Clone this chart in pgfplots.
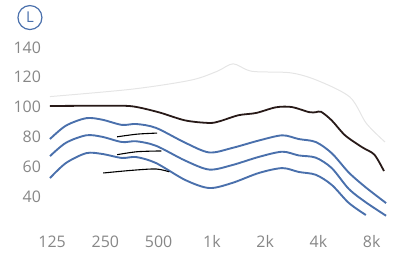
\documentclass[border=0pt]{standalone}
\usepackage{fontspec}
\setmainfont{Open Sans}
\usepackage{pgfplots}
\pgfplotsset{compat=1.18}
\definecolor{lblue}{RGB}{74,112,172}
\definecolor{lblack}{RGB}{40,26,24}
\definecolor{tickgray}{RGB}{135,135,135}
\definecolor{thin}{RGB}{88,96,116}
\begin{document}
\begin{tikzpicture}
\begin{axis}[
  scale only axis, width=393bp, height=253bp,
  xmin=-0.976, xmax=6.398, ymin=2, ymax=171.8,
  axis line style={draw=none}, major tick length=0pt,
  xtick={0,1,2,3,4,5,6},
  xticklabels={125,250,500,1k,2k,4k,8k},
  ytick={40,60,80,100,120,140},
  /pgf/number format/assume math mode=true,
  tick label style={font=\fontsize{16}{16}\selectfont, text=tickgray, inner sep=0pt},
  yticklabel style={anchor=east, xshift=41bp},
  xticklabel style={anchor=base, yshift=5bp},
  clip=false,
]
% faint bleed-through curve
\addplot[gray!20, line width=1pt, smooth] coordinates {(-0.04,107) (1.5,112) (2.6,118) (3.1,124) (3.4,129) (3.75,124) (4.47,123) (4.97,118) (5.59,106.7) (5.9,89) (6.25,76.5)};
% black curve
\addplot[lblack, line width=1.8pt, smooth] coordinates {(-0.04,100.7) (0.5,100.8) (1.0,100.8) (1.5,100.5) (2.0,96.5) (2.5,91) (2.95,89.3) (3.15,90.5) (3.5,94.5) (3.83,96) (4.2,99.8) (4.5,100) (4.82,96.6) (4.95,96.5) (5.05,96.8) (5.25,91) (5.5,81) (5.82,73) (6.05,68) (6.23,57)};
% blue curves
\addplot[lblue, line width=1.9pt, smooth] coordinates {(-0.04,78.5) (0.26,87.5) (0.64,92.5) (0.94,91.5) (1.31,88) (1.58,88.6) (1.95,86) (2.5,76) (2.95,69.5) (3.38,72.5) (3.88,77.5) (4.32,81) (4.63,78.5) (4.95,76.5) (5.25,69) (5.57,56) (5.89,46) (6.27,35.5)};
\addplot[lblue, line width=1.9pt, smooth] coordinates {(-0.04,67) (0.26,76) (0.64,81) (0.94,80) (1.31,76.5) (1.58,77) (1.95,74) (2.5,64) (2.95,58) (3.38,61) (3.88,66.5) (4.32,70) (4.63,67.5) (4.95,66) (5.25,59) (5.57,45) (5.89,36) (6.27,27)};
\addplot[lblue, line width=1.9pt, smooth] coordinates {(-0.04,52.3) (0.26,62.4) (0.64,69) (0.94,68.5) (1.31,65.8) (1.58,66.4) (1.95,62.4) (2.5,51) (2.95,45.6) (3.38,49) (3.88,55.7) (4.32,59) (4.63,56.4) (4.95,54.5) (5.25,47.7) (5.57,35.6) (5.89,27.5)};
% thin short lines
\addplot[thin, line width=1.1pt, smooth] coordinates {(1.22,80) (1.6,81.8) (1.97,82.5)};
\addplot[thin, line width=1.1pt, smooth] coordinates {(1.22,68) (1.6,70) (2.05,70.5)};
\addplot[thin, line width=1.1pt, smooth] coordinates {(0.96,55.7) (1.5,57.5) (1.95,58.4) (2.2,56.5)};
\node[circle, draw=lblue, line width=1.2pt, minimum size=24bp, inner sep=0pt, text=lblue, font=\fontsize{15}{15}\selectfont] at (rel axis cs:0.076,0.931) {L};
\end{axis}
\end{tikzpicture}
\end{document}
